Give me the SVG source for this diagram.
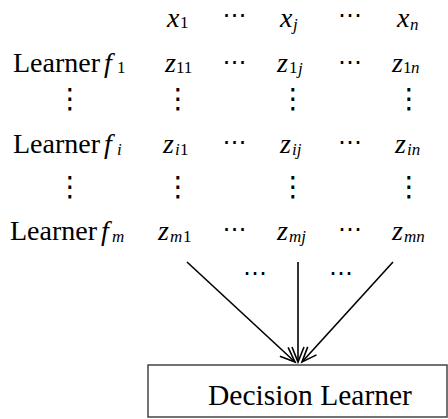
<svg xmlns="http://www.w3.org/2000/svg" width="448" height="419" viewBox="0 0 448 419">
<rect width="448" height="419" fill="#fff"/>
<text id="decision-learner" x="208" y="405" font-family="Times New Roman" font-size="29.5">Decision Learner</text>
<text id="learner-f1" x="13" y="72" font-family="Times New Roman" font-size="28">Learner</text>
<text id="learner-fi" x="13" y="153" font-family="Times New Roman" font-size="28">Learner</text>
<text id="learner-fm" x="10" y="240" font-family="Times New Roman" font-size="28">Learner</text>
<text x="180" y="28" font-family="Times New Roman" font-size="17">1</text>
<text x="117" y="73" font-family="Times New Roman" font-size="17">1</text>
<text x="176" y="73" font-family="Times New Roman" font-size="17">11</text>
<text x="289" y="73" font-family="Times New Roman" font-size="17">1</text>
<text x="403" y="73" font-family="Times New Roman" font-size="17">1</text>
<text x="180" y="155" font-family="Times New Roman" font-size="17">1</text>
<text x="183" y="242" font-family="Times New Roman" font-size="17">1</text>
<text id="x1" x="167" y="27" font-family="Liberation Serif" font-size="28" font-style="italic">x</text>
<text x="234.5" y="23" font-family="DejaVu Sans" font-size="24" text-anchor="middle">⋯</text>
<text id="xj" x="280" y="27" font-family="Liberation Serif" font-size="28" font-style="italic">x</text>
<text x="293" y="30" font-family="Liberation Serif" font-size="17" font-style="italic">j</text>
<text x="350" y="23" font-family="DejaVu Sans" font-size="24" text-anchor="middle">⋯</text>
<text id="xn" x="397" y="27" font-family="Liberation Serif" font-size="28" font-style="italic">x</text>
<text x="410" y="30" font-family="Liberation Serif" font-size="17" font-style="italic">n</text>
<text x="104" y="72" font-family="Liberation Serif" font-size="28" font-style="italic">f</text>
<text id="z11" x="165" y="72" font-family="Liberation Serif" font-size="28" font-style="italic">z</text>
<text x="234.5" y="70" font-family="DejaVu Sans" font-size="24" text-anchor="middle">⋯</text>
<text id="z1j" x="277" y="72" font-family="Liberation Serif" font-size="28" font-style="italic">z</text>
<text x="298" y="74" font-family="Liberation Serif" font-size="17" font-style="italic">j</text>
<text x="350" y="70" font-family="DejaVu Sans" font-size="24" text-anchor="middle">⋯</text>
<text id="z1n" x="392" y="72" font-family="Liberation Serif" font-size="28" font-style="italic">z</text>
<text x="411" y="73" font-family="Liberation Serif" font-size="17" font-style="italic">n</text>
<text x="70" y="108" font-family="DejaVu Sans" font-size="28" text-anchor="middle">⋮</text>
<text x="178" y="108" font-family="DejaVu Sans" font-size="28" text-anchor="middle">⋮</text>
<text x="293" y="108" font-family="DejaVu Sans" font-size="28" text-anchor="middle">⋮</text>
<text x="409" y="108" font-family="DejaVu Sans" font-size="28" text-anchor="middle">⋮</text>
<text x="104" y="153" font-family="Liberation Serif" font-size="28" font-style="italic">f</text>
<text x="117" y="155" font-family="Liberation Serif" font-size="17" font-style="italic">i</text>
<text id="zi1" x="163" y="153" font-family="Liberation Serif" font-size="28" font-style="italic">z</text>
<text x="175" y="155" font-family="Liberation Serif" font-size="17" font-style="italic">i</text>
<text x="234.5" y="150" font-family="DejaVu Sans" font-size="24" text-anchor="middle">⋯</text>
<text id="zij" x="280" y="153" font-family="Liberation Serif" font-size="28" font-style="italic">z</text>
<text x="292" y="155" font-family="Liberation Serif" font-size="17" font-style="italic">ij</text>
<text x="350" y="150" font-family="DejaVu Sans" font-size="24" text-anchor="middle">⋯</text>
<text id="zin" x="395" y="153" font-family="Liberation Serif" font-size="28" font-style="italic">z</text>
<text x="407" y="155" font-family="Liberation Serif" font-size="17" font-style="italic">in</text>
<text x="70" y="196" font-family="DejaVu Sans" font-size="28" text-anchor="middle">⋮</text>
<text x="178" y="196" font-family="DejaVu Sans" font-size="28" text-anchor="middle">⋮</text>
<text x="293" y="196" font-family="DejaVu Sans" font-size="28" text-anchor="middle">⋮</text>
<text x="409" y="196" font-family="DejaVu Sans" font-size="28" text-anchor="middle">⋮</text>
<text x="101" y="240" font-family="Liberation Serif" font-size="28" font-style="italic">f</text>
<text x="112" y="242" font-family="Liberation Serif" font-size="17" font-style="italic">m</text>
<text id="zm1" x="158" y="240" font-family="Liberation Serif" font-size="28" font-style="italic">z</text>
<text x="170" y="242" font-family="Liberation Serif" font-size="17" font-style="italic">m</text>
<text x="234.5" y="237" font-family="DejaVu Sans" font-size="24" text-anchor="middle">⋯</text>
<text id="zmj" x="277" y="240" font-family="Liberation Serif" font-size="28" font-style="italic">z</text>
<text x="289" y="242" font-family="Liberation Serif" font-size="17" font-style="italic">mj</text>
<text x="350" y="237" font-family="DejaVu Sans" font-size="24" text-anchor="middle">⋯</text>
<text id="zmn" x="392" y="240" font-family="Liberation Serif" font-size="28" font-style="italic">z</text>
<text x="404" y="242" font-family="Liberation Serif" font-size="17" font-style="italic">mn</text>
<text x="255" y="281" font-family="DejaVu Sans" font-size="24" text-anchor="middle">⋯</text>
<text x="341" y="281" font-family="DejaVu Sans" font-size="24" text-anchor="middle">⋯</text>
<g id="connectors" stroke="#000" stroke-width="1.6" fill="none" stroke-linejoin="miter">
<line x1="187" y1="262" x2="295" y2="362"/>
<path d="M279.9,356.2 L295,362 L288.1,347.4"/>
<line x1="298" y1="262" x2="298" y2="362"/>
<path d="M292,347 L298,362 L304,347"/>
<line x1="393" y1="262" x2="302" y2="362"/>
<path d="M307.7,346.9 L302,362 L316.5,354.9"/>
</g>
<rect id="decision-box" x="148" y="365" width="299" height="52" fill="none" stroke="#444" stroke-width="1.5"/>
</svg>
